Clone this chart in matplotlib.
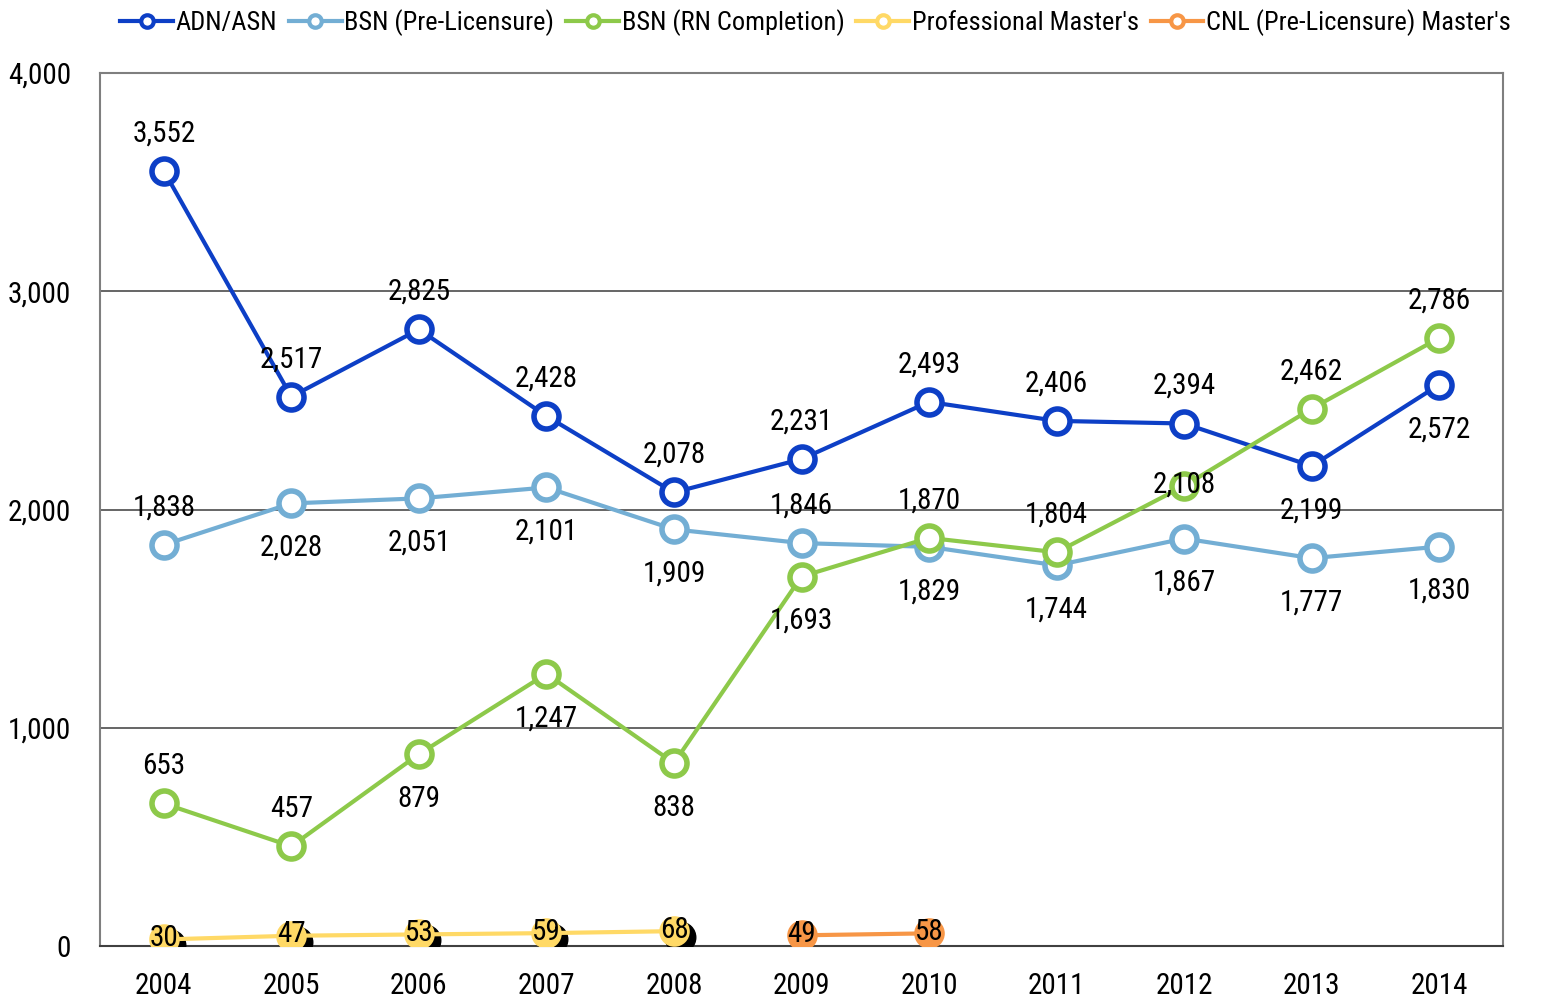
import numpy as np
import matplotlib
matplotlib.use('Agg')
import matplotlib.pyplot as plt
from matplotlib.lines import Line2D
from matplotlib.transforms import ScaledTranslation

# narrow sans like the original, falling back to Liberation Sans
plt.rcParams['font.family'] = ['Roboto Condensed', 'Archivo Narrow', 'Liberation Sans', 'DejaVu Sans']

# data
years = ['2004', '2005', '2006', '2007', '2008', '2009', '2010', '2011', '2012', '2013', '2014']
adn_asn = [3552, 2517, 2825, 2428, 2078, 2231, 2493, 2406, 2394, 2199, 2572]
bsn_pre = [1838, 2028, 2051, 2101, 1909, 1846, 1829, 1744, 1867, 1777, 1830]
bsn_rn = [653, 457, 879, 1247, 838, 1693, 1870, 1804, 2108, 2462, 2786]
prof_masters = [30, 47, 53, 59, 68, None, None, None, None, None, None]
cnl_masters = [None, None, None, None, None, 49, 58, None, None, None, None]

# label placement for each point: 'a' above, 'b' below, 'c' centred
place_adn = ['a', 'a', 'a', 'a', 'a', 'a', 'a', 'a', 'a', 'b', 'b']
place_pre = ['a', 'b', 'b', 'b', 'b', 'a', 'b', 'b', 'b', 'b', 'b']
place_rn = ['a', 'a', 'b', 'b', 'b', 'b', 'a', 'a', 'c', 'a', 'a']
place_mid = ['c'] * 11

fig = plt.figure(figsize=(15.41, 10.01), dpi=100)
ax = fig.add_axes([100 / 1541, 1 - 946 / 1001, 1403 / 1541, 873 / 1001])

x = np.arange(len(years))


def to_arr(vals):
    return np.array([np.nan if v is None else v for v in vals], dtype=float)


def add_labels(vals, places):
    for xi, v, p in zip(x, vals, places):
        if v is None:
            continue
        off = {'a': 27, 'b': -32, 'c': 1}[p]
        ax.annotate(f'{v:,}', (xi, v), xytext=(0, off), textcoords='offset points',
                    ha='center', va='center', fontsize=21, zorder=10)


series = [
    ("ADN/ASN", adn_asn, '#0D3FC6', place_adn, 'white'),
    ("BSN (Pre-Licensure)", bsn_pre, '#73AED4', place_pre, 'white'),
    ("BSN (RN Completion)", bsn_rn, '#8DC94A', place_rn, 'white'),
    ("Professional Master's", prof_masters, '#FFD966', place_mid, '#FFD966'),
    ("CNL (Pre-Licensure) Master's", cnl_masters, '#F79646', place_mid, '#F79646'),
]

# black shadow under the Professional Master's markers
shadow = ax.transData + ScaledTranslation(6 / 100, -6 / 100, fig.dpi_scale_trans)
ax.plot(x, to_arr(prof_masters), linestyle='none', marker='o', markersize=22,
        color='black', transform=shadow, zorder=4)

handles = []
for name, vals, color, places, face in series:
    ax.plot(x, to_arr(vals), color=color, linewidth=3, marker='o', markersize=18,
            markerfacecolor=face, markeredgecolor=color, markeredgewidth=4, zorder=5)
    add_labels(vals, places)
    # legend keys are all hollow circles
    handles.append(Line2D([], [], color=color, linewidth=3, marker='o', markersize=9,
                          markerfacecolor='white', markeredgecolor=color,
                          markeredgewidth=3, label=name))

ax.set_xlim(-0.5, len(years) - 0.5)
ax.set_ylim(0, 4000)
ax.set_xticks(x)
ax.set_xticklabels(years)
ax.set_yticks([0, 1000, 2000, 3000, 4000])
ax.set_yticklabels([f'{v:,}' for v in [0, 1000, 2000, 3000, 4000]])
ax.tick_params(axis='both', length=0, labelsize=21)
ax.tick_params(axis='y', pad=21)
ax.tick_params(axis='x', pad=19)

ax.grid(axis='y', color='#595959', linewidth=1.3)
ax.set_axisbelow(True)
for side in ['top', 'right', 'left']:
    ax.spines[side].set_color('#7F7F7F')
    ax.spines[side].set_linewidth(1.5)
ax.spines['bottom'].set_color('#404040')
ax.spines['bottom'].set_linewidth(1.5)

ax.legend(handles=handles, loc='lower center', bbox_to_anchor=(0.51, 1.0), ncol=5,
          frameon=False, fontsize=19, handlelength=2.0, handletextpad=0.1,
          columnspacing=0.45, borderaxespad=1.0)

fig.savefig('out.png', dpi=100)
